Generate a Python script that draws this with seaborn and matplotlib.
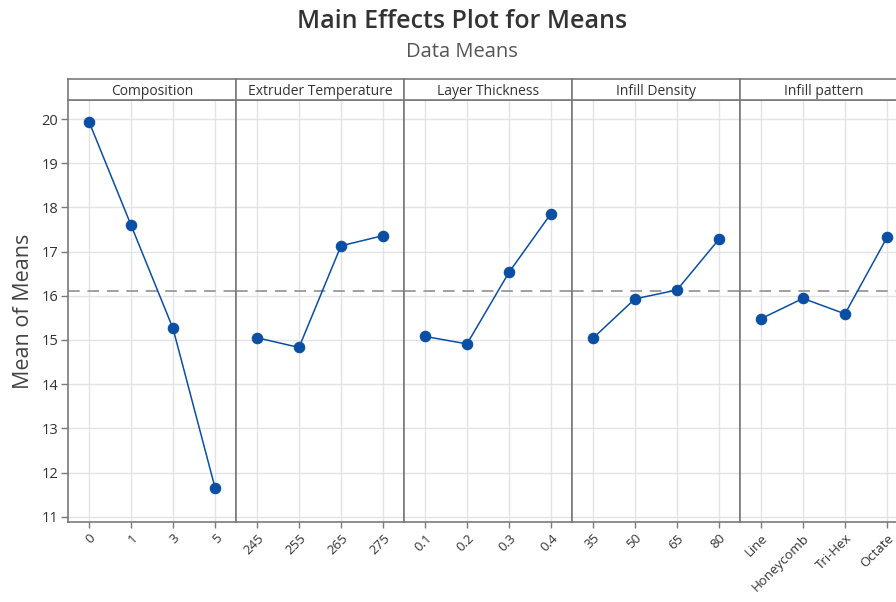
import matplotlib
matplotlib.use("Agg")
import matplotlib.pyplot as plt
import pandas as pd
import seaborn as sns

# Factor names and the mean response at each factor level
factors = ["Composition", "Extruder Temperature", "Layer Thickness",
           "Infill Density", "Infill pattern"]
composition_levels = ["0", "1", "3", "5"]
composition_means = [19.94, 17.60, 15.26, 11.66]
temperature_levels = ["245", "255", "265", "275"]
temperature_means = [15.05, 14.83, 17.13, 17.36]
thickness_levels = ["0.1", "0.2", "0.3", "0.4"]
thickness_means = [15.08, 14.91, 16.53, 17.86]
density_levels = ["35", "50", "65", "80"]
density_means = [15.04, 15.93, 16.13, 17.28]
pattern_levels = ["Line", "Honeycomb", "Tri-Hex", "Octate"]
pattern_means = [15.48, 15.94, 15.59, 17.32]
grand_mean = 16.1
y_ticks = list(range(11, 21))

levels = [composition_levels, temperature_levels, thickness_levels,
          density_levels, pattern_levels]
means = [composition_means, temperature_means, thickness_means,
         density_means, pattern_means]

frames = []
for name, lv, mv in zip(factors, levels, means):
    frames.append(pd.DataFrame({"factor": name, "level": lv, "mean": mv}))
data = pd.concat(frames, ignore_index=True)

sns.set_theme(style="white")
plt.rcParams["font.family"] = ["Open Sans", "DejaVu Sans"]

W, H = 896, 602
fig = plt.figure(figsize=(W / 100, H / 100), dpi=100)

line_color = "#0A4FA3"
frame_color = "#7a7a7a"
grid_color = "#e3e3e3"

left_px, panel_w = 68, 168
top_px, bottom_px = 100, 522
strip_top = 79

y_lo, y_hi = 10.88, 20.43

for i, name in enumerate(factors):
    x0 = left_px + i * panel_w
    ax = fig.add_axes([x0 / W, 1 - bottom_px / H, panel_w / W,
                       (bottom_px - top_px) / H])
    sub = data[data["factor"] == name]
    order = levels[i]
    ax.axhline(grand_mean, color="#a0a0a0", lw=1.4, ls=(0, (6, 4)), zorder=1)
    sns.pointplot(data=sub, x="level", y="mean", order=order, ax=ax,
                  color=line_color, markers="o", markersize=7.5,
                  linewidth=1.1, errorbar=None, zorder=3)
    ax.set_xlim(-0.5, len(order) - 0.5)
    ax.set_ylim(y_lo, y_hi)
    ax.set_yticks(y_ticks)
    ax.set_xticks(range(len(order)))
    ax.set_xticklabels(order, rotation=45, ha="right", rotation_mode="anchor",
                       fontsize=9.5, color="#333333")
    ax.set_xlabel("")
    ax.set_ylabel("")
    ax.grid(True, color=grid_color, lw=1.0, zorder=0)
    ax.set_axisbelow(True)
    for sp in ax.spines.values():
        sp.set_color(frame_color)
        sp.set_linewidth(1.2)
    ax.tick_params(axis="x", bottom=True, length=4, width=1,
                   color=frame_color, pad=3)
    if i == 0:
        ax.tick_params(axis="y", left=True, length=5, width=1,
                       color=frame_color, labelsize=10.5, labelcolor="#333333",
                       pad=2)
        ax.set_ylabel("Mean of Means", fontsize=15.5, color="#444444",
                      labelpad=5)
    else:
        ax.tick_params(axis="y", left=False, labelleft=False)

    # Factor name strip above each panel
    sax = fig.add_axes([x0 / W, 1 - top_px / H, panel_w / W,
                        (top_px - strip_top) / H])
    sax.set_xticks([])
    sax.set_yticks([])
    sax.set_facecolor("white")
    for sp in sax.spines.values():
        sp.set_color(frame_color)
        sp.set_linewidth(1.2)
    sax.text(0.5, 0.42, name, ha="center", va="center", fontsize=10,
             color="#333333", transform=sax.transAxes)

fig.text(462 / W, 1 - 22 / H, "Main Effects Plot for Means", ha="center",
         va="center", fontsize=18, fontweight="semibold", color="#333333")
fig.text(462 / W, 1 - 52 / H, "Data Means", ha="center", va="center",
         fontsize=14.5, color="#555555")

fig.savefig("out.png", dpi=100)
